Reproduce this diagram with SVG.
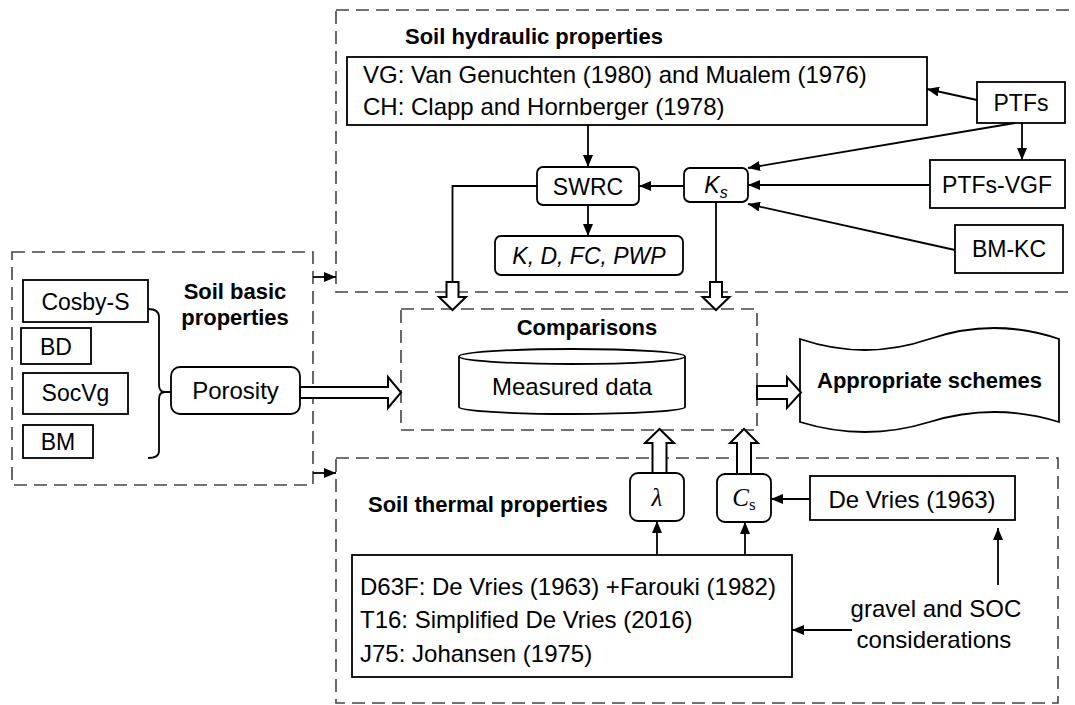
<svg xmlns="http://www.w3.org/2000/svg" width="1075" height="705" viewBox="0 0 1075 705">
<style>
text{font-family:"Liberation Sans",Arial,sans-serif;fill:#000}
.t{font-size:24px}
.s{font-size:23px}
.b{font-size:22px;font-weight:bold}
.m{text-anchor:middle}
.box{fill:#fff;stroke:#000;stroke-width:1.8}
.dash{fill:none;stroke:#444;stroke-width:1.6;stroke-dasharray:13 7}
.ln{fill:none;stroke:#000;stroke-width:1.8}
.arr{fill:none;stroke:#000;stroke-width:1.8;marker-end:url(#ah)}
.hol{fill:#fff;stroke:#000;stroke-width:2;stroke-linejoin:miter}
.ser{font-family:"Liberation Serif","Times New Roman",serif}
</style>
<defs>
<marker id="ah" viewBox="0 0 12 10" refX="12" refY="5" markerWidth="12" markerHeight="10" markerUnits="userSpaceOnUse" orient="auto">
<path d="M0,0 L12,5 L0,10 z" fill="#000"/>
</marker>
</defs>
<rect width="1075" height="705" fill="#fff"/>

<!-- group frames -->
<g id="hydraulic-group">
<rect class="dash" x="336" y="10" width="745" height="282"/>
<text class="b" x="405" y="44">Soil hydraulic properties</text>
</g>
<g id="basic-group">
<rect class="dash" x="12" y="252" width="301" height="233"/>
<text class="b m" x="235" y="299">Soil basic</text>
<text class="b m" x="235" y="325">properties</text>
</g>
<g id="thermal-group">
<rect class="dash" x="336" y="458" width="722" height="245"/>
<text class="b" x="368" y="512">Soil thermal properties</text>
</g>
<g id="comparisons">
<rect class="dash" x="401" y="309" width="356" height="121"/>
<text class="b m" x="587" y="335">Comparisons</text>
</g>

<!-- nodes -->
<g id="vg-ch">
<rect class="box" x="347" y="57" width="580" height="68"/>
<text class="t" x="363" y="83">VG: Van Genuchten (1980) and Mualem (1976)</text>
<text class="t" x="363" y="115">CH: Clapp and Hornberger (1978)</text>
</g>
<g id="ptfs">
<rect class="box" x="977" y="82" width="88" height="41"/>
<text class="s m" x="1021" y="111">PTFs</text>
</g>
<g id="swrc">
<rect class="box" x="537" y="167" width="102" height="38" rx="6"/>
<text class="s m" x="588" y="195">SWRC</text>
</g>
<g id="ks">
<rect class="box" x="684" y="168" width="64" height="34" rx="6"/>
<text class="s m" x="716" y="193"><tspan font-style="italic">K</tspan><tspan font-style="italic" font-size="16" dy="5">s</tspan></text>
</g>
<g id="ptfs-vgf">
<rect class="box" x="930" y="160" width="135" height="48"/>
<text class="s m" x="997" y="193">PTFs-VGF</text>
</g>
<g id="bm-kc">
<rect class="box" x="955" y="225" width="108" height="48"/>
<text class="s m" x="1009" y="257">BM-KC</text>
</g>
<g id="kdfcpwp">
<rect class="box" x="495" y="236" width="188" height="39" rx="6"/>
<text class="s m" x="589" y="264" font-style="italic">K, D, FC, PWP</text>
</g>

<g id="cosby-s">
<rect class="box" x="23" y="280" width="125" height="42"/>
<text class="s m" x="85.5" y="310">Cosby-S</text>
</g>
<g id="bd">
<rect class="box" x="21" y="328" width="70" height="36"/>
<text class="s m" x="56" y="355">BD</text>
</g>
<g id="socvg">
<rect class="box" x="23" y="373" width="105" height="41"/>
<text class="s m" x="75.5" y="401">SocVg</text>
</g>
<g id="bm">
<rect class="box" x="23" y="425" width="70" height="33"/>
<text class="s m" x="58" y="450">BM</text>
</g>
<g id="porosity">
<rect class="box" x="171" y="367" width="129" height="47" rx="9"/>
<text class="t m" x="235.5" y="399">Porosity</text>
</g>

<g id="measured-data">
<path class="box" d="M459,356.5 L459,407 A113,7 0 0 0 685,407 L685,356.5"/>
<ellipse class="box" cx="572" cy="356.5" rx="113" ry="7.5"/>
<text class="t m" x="572" y="395">Measured data</text>
</g>

<g id="appropriate-schemes">
<path class="box" d="M800,339 Q865,361 929.5,339 Q994,317 1059,339 L1059,422 Q994,402 929.5,422 Q865,442 800,422 Z"/>
<text class="b m" x="929.5" y="388">Appropriate schemes</text>
</g>

<g id="lambda">
<rect class="box" x="630" y="473" width="54" height="48" rx="8"/>
<text class="ser m" x="657" y="506" font-size="25" font-style="italic">λ</text>
</g>
<g id="cs">
<rect class="box" x="717" y="474" width="54" height="48" rx="8"/>
<text class="ser m" x="744" y="506" font-size="25"><tspan font-style="italic">C</tspan><tspan font-size="17" dy="4">s</tspan></text>
</g>
<g id="de-vries">
<rect class="box" x="810" y="476" width="205" height="44"/>
<text class="t m" x="912" y="508">De Vries (1963)</text>
</g>
<g id="d63f-t16-j75">
<rect class="box" x="352" y="555" width="440" height="122"/>
<text class="t" x="360" y="595">D63F: De Vries (1963) +Farouki (1982)</text>
<text class="t" x="360" y="628">T16: Simplified De Vries (2016)</text>
<text class="t" x="360" y="662">J75: Johansen (1975)</text>
</g>
<g id="gravel-soc">
<text class="t m" x="936" y="617">gravel and SOC</text>
<text class="t m" x="934" y="648">considerations</text>
</g>

<!-- connectors -->
<g id="connectors">
<line class="arr" x1="313" y1="277" x2="336" y2="277"/>
<line class="arr" x1="313" y1="473" x2="336" y2="473"/>
<line class="arr" x1="588" y1="125" x2="588" y2="167"/>
<line class="arr" x1="977" y1="100" x2="927" y2="89"/>
<line class="arr" x1="1022" y1="123" x2="1022" y2="160"/>
<line class="arr" x1="1015" y1="123" x2="748" y2="168"/>
<line class="arr" x1="930" y1="185" x2="748" y2="185"/>
<line class="arr" x1="955" y1="250" x2="748" y2="204"/>
<line class="arr" x1="684" y1="186" x2="639" y2="186"/>
<line class="arr" x1="588" y1="205" x2="588" y2="236"/>
<polyline class="ln" points="537,186 452.5,186 452.5,282"/>
<line class="ln" x1="716" y1="202" x2="716" y2="282"/>
<path class="hol" d="M446.5,282 L458.5,282 L458.5,297 L466,297 L452.5,310 L439,297 L446.5,297 Z"/>
<path class="hol" d="M710,282 L722,282 L722,297 L729.5,297 L716,310 L702.5,297 L710,297 Z"/>
<path class="ln" d="M148,309 Q159,309 159,317 L159,385 Q159,392 165,392 L171,392 M165,392 Q159,392 159,399 L159,451 Q159,458 148,458"/>
<path class="hol" d="M300,387 L388,387 L388,377 L401,392.5 L388,408 L388,398 L300,398 Z"/>
<path class="hol" d="M757,386 L787,386 L787,377 L801,392.5 L787,408 L787,399 L757,399 Z"/>
<path class="hol" d="M652.5,473 L652.5,443 L645,443 L659.5,429 L674,443 L666.5,443 L666.5,473 Z"/>
<path class="hol" d="M737,474 L737,443 L730,443 L744,429 L758,443 L751,443 L751,474 Z"/>
<line class="arr" x1="657" y1="555" x2="657" y2="521"/>
<line class="arr" x1="745" y1="555" x2="745" y2="522"/>
<line class="arr" x1="810" y1="499" x2="771" y2="499"/>
<line class="arr" x1="852" y1="630" x2="792" y2="630"/>
<line class="arr" x1="998" y1="585" x2="998" y2="528"/>
</g>
</svg>
